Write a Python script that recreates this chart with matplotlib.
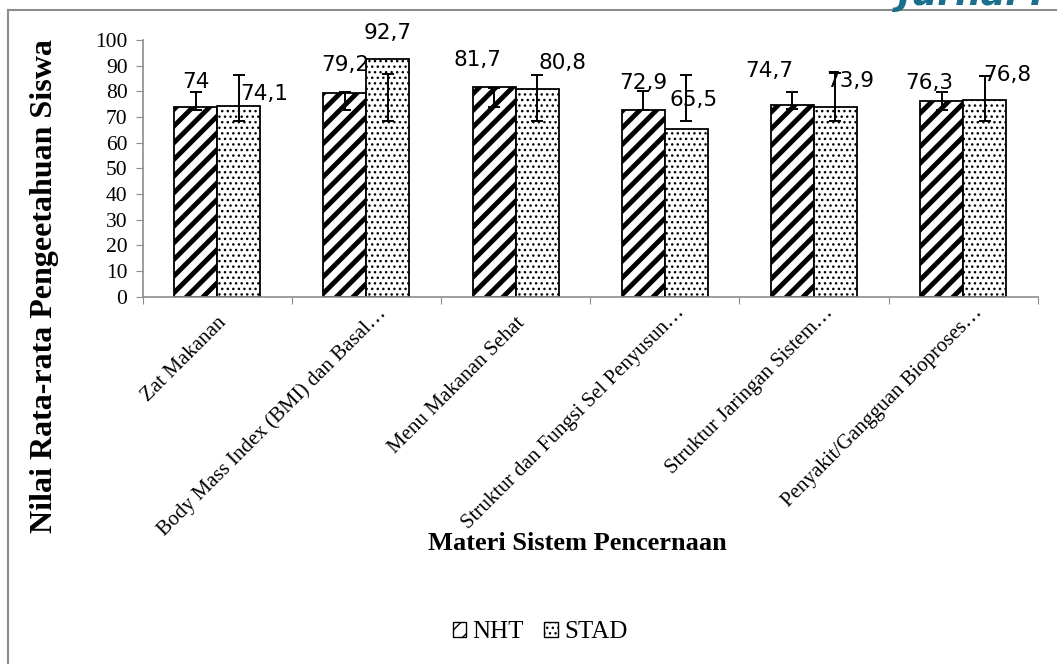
import numpy as np
import matplotlib
matplotlib.use("Agg")
import matplotlib.pyplot as plt
import matplotlib.transforms as mtransforms
from matplotlib.patches import Patch
from matplotlib.lines import Line2D

# data
categories = [
    "Zat Makanan",
    "Body Mass Index (BMI) dan Basal\u2026",
    "Menu Makanan Sehat",
    "Struktur dan Fungsi Sel Penyusun\u2026",
    "Struktur Jaringan Sistem\u2026",
    "Penyakit/Gangguan Bioproses\u2026",
]
nht = [74, 79.2, 81.7, 72.9, 74.7, 76.3]
stad = [74.1, 92.7, 80.8, 65.5, 73.9, 76.8]

# error bar ends (as drawn in the source figure)
nht_err_lo = [72.8, 72.7, 74.0, 72.7, 73.1, 72.7]
nht_err_hi = [79.7, 79.7, 81.3, 80.1, 79.7, 79.7]
stad_err_lo = [68.6, 68.6, 68.4, 68.6, 68.6, 68.6]
stad_err_hi = [86.5, 86.8, 86.4, 86.4, 87.0, 86.0]

# label offsets in pixels (dx, dy from bar top centre)
nht_lbl_off = [(0, 25), (0, 28), (-17, 27), (0, 27), (-23, 34), (-12, 18)]
stad_lbl_off = [(25, 12), (0, 26), (25, 26), (7, 29), (15, 26), (23, 25)]

SERIF = "Liberation Serif"
GRAY = "#8c8c8c"


def fmt(v):
    return f"{v:g}".replace(".", ",")


fig = plt.figure(figsize=(10.57, 6.64), dpi=100)
ax = fig.add_axes([142.7 / 1057, 1 - 296.7 / 664, 895 / 1057, 256.7 / 664])

x = np.arange(len(categories))
w = 0.288

plt.rcParams["hatch.linewidth"] = 3.5
b1 = ax.bar(x - w / 2, nht, w, color="white", edgecolor="black", linewidth=1.3,
            hatch="//", zorder=2)
plt.rcParams["hatch.linewidth"] = 1.0
b2 = ax.bar(x + w / 2, stad, w, color="white", edgecolor="black", linewidth=1.3,
            hatch="...", zorder=2)
for p in b1:
    if hasattr(p, "set_hatch_linewidth"):
        p.set_hatch_linewidth(3.5)
for p in b2:
    if hasattr(p, "set_hatch_linewidth"):
        p.set_hatch_linewidth(1.0)

for xs, lo, hi in [(x - w / 2, nht_err_lo, nht_err_hi), (x + w / 2, stad_err_lo, stad_err_hi)]:
    lo = np.array(lo)
    hi = np.array(hi)
    ax.errorbar(xs, (lo + hi) / 2, yerr=(hi - lo) / 2, fmt="none", ecolor="black",
                elinewidth=1.4, capsize=4.5, capthick=1.4, zorder=3)

for xs, vals, offs in [(x - w / 2, nht, nht_lbl_off), (x + w / 2, stad, stad_lbl_off)]:
    for xi, v, (dx, dy) in zip(xs, vals, offs):
        ax.annotate(fmt(v), (xi, v), xytext=(dx, dy), textcoords="offset pixels",
                    ha="center", va="center", fontsize=15.5, family="DejaVu Sans",
                    zorder=4)

ax.set_xlim(-0.5, len(categories) - 0.5)
ax.set_ylim(0, 100)
ax.set_yticks(np.arange(0, 101, 10))
ax.set_xticks(np.arange(-0.5, len(categories), 1.0))
ax.set_xticklabels([])
ax.set_xticks(x, minor=True)
ax.set_xticklabels(categories, minor=True, rotation=45, ha="right", va="top",
                   rotation_mode="anchor", fontfamily=SERIF, fontsize=15)
ax.tick_params(axis="x", which="minor", length=0, pad=12)
ax.tick_params(axis="x", which="major", length=5, color=GRAY, direction="out")
ax.tick_params(axis="y", length=5, color=GRAY, direction="out", pad=6)
# truncated labels sit a little further up-right in the source
shift = mtransforms.ScaledTranslation(0.10, 0.10, fig.dpi_scale_trans)
for lab in ax.get_xticklabels(minor=True):
    if lab.get_text().endswith("\u2026"):
        lab.set_transform(lab.get_transform() + shift)
for lab in ax.get_yticklabels():
    lab.set_fontfamily(SERIF)
    lab.set_fontsize(15.5)
for s in ["top", "right"]:
    ax.spines[s].set_visible(False)
for s in ["left", "bottom"]:
    ax.spines[s].set_color(GRAY)
    ax.spines[s].set_linewidth(1.2)

fig.text(45 / 1057, 1 - 286 / 664, "Nilai Rata-rata Pengeetahuan Siswa", rotation=90,
         ha="center", va="center", fontfamily=SERIF, fontweight="bold", fontsize=23)
fig.text(577 / 1057, 1 - 543 / 664, "Materi Sistem Pencernaan", ha="center", va="center",
         fontfamily=SERIF, fontweight="bold", fontsize=19)

handles = [
    Patch(facecolor="white", edgecolor="black", hatch="//", label="NHT"),
    Patch(facecolor="white", edgecolor="black", hatch="...", label="STAD"),
]
fig.legend(handles=handles, loc="center", bbox_to_anchor=(540 / 1057, 1 - 632 / 664),
           ncol=2, frameon=False, prop={"family": SERIF, "size": 18},
           handlelength=0.55, handleheight=0.55, handletextpad=0.25, columnspacing=0.8)

# chart frame (partly cropped) and page header fragment
fig.add_artist(Line2D([8 / 1057, 1.0], [1 - 10 / 664, 1 - 10 / 664], color=GRAY, lw=1.5))
fig.add_artist(Line2D([8 / 1057, 8 / 1057], [0, 1 - 10 / 664], color=GRAY, lw=1.5))
fig.text(1.0, 1 - 5 / 664, "Jurnal P", ha="right", va="baseline", color="#1b6f8c",
         fontsize=26, fontweight="bold", style="italic", family="DejaVu Sans")

fig.savefig("out.png", dpi=100)
